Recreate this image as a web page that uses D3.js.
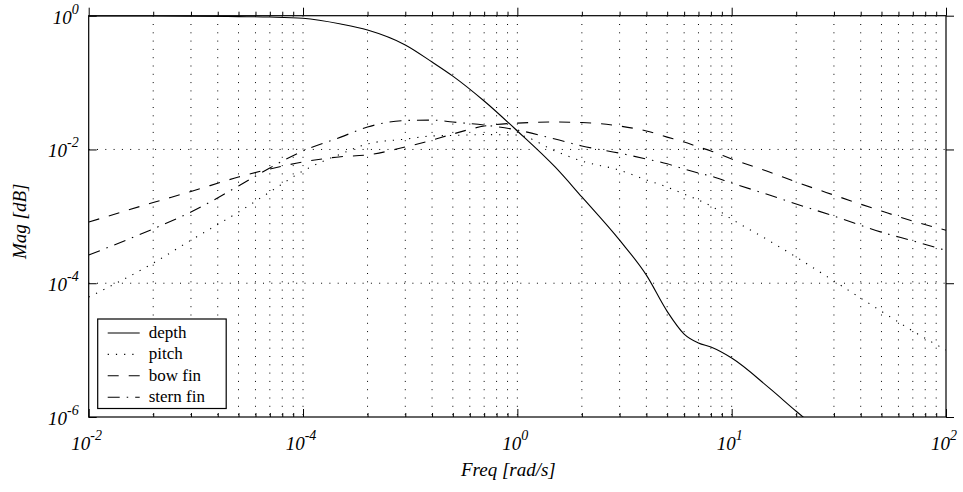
<!DOCTYPE html>
<html>
<head>
<meta charset="utf-8">
<script src="https://cdn.jsdelivr.net/npm/d3@7"></script>
<style>
  body { margin: 0; background: #fff; }
  svg { display: block; font-family: "Liberation Serif", "Times New Roman", serif; }
  .tick-label, .axis-label { font-style: italic; fill: #000; }
  .legend-text { font-size: 17px; fill: #000; }
  .line { fill: none; stroke: #000; stroke-width: 1.1; }
</style>
</head>
<body>
<div id="wrapper"></div>
<script>
// 1. Data
const freq    = [0.01, 0.02, 0.03, 0.05, 0.07, 0.1, 0.15, 0.2, 0.3, 0.4, 0.5, 0.7,
                 1, 1.5, 2, 3, 4, 5, 6, 7, 8, 10, 15, 20, 30, 50, 70, 100]
const depth   = [0.99, 0.99, 0.985, 0.97, 0.955, 0.914, 0.75, 0.61, 0.365, 0.203, 0.125, 0.053,
                 0.0189, 0.00547, 0.00195, 4.4e-4, 1.32e-4, 3.8e-5, 1.74e-5, 1.28e-5, 1.11e-5, 7.6e-6,
                 2.7e-6, 1.22e-6, 4.2e-7, 1.1e-7, 5e-8, 1.5e-8]
const pitch   = [6.2e-5, 2.0e-4, 4.4e-4, 1.16e-3, 2.31e-3, 4.77e-3, 8.55e-3, 0.0121, 0.0143, 0.0159, 0.0162, 0.0167,
                 0.0164, 9.5e-3, 6.7e-3, 4.9e-3, 3.5e-3, 2.74e-3, 2.15e-3, 1.75e-3, 1.43e-3, 9.1e-4,
                 4.3e-4, 2.46e-4, 1.08e-4, 3.8e-5, 1.93e-5, 1.0e-5]
const bowFin  = [8.2e-4, 1.61e-3, 2.35e-3, 3.87e-3, 5.1e-3, 6.5e-3, 7.8e-3, 8.3e-3, 0.0109, 0.0138, 0.0170, 0.0224,
                 0.0248, 0.0257, 0.0253, 0.0224, 0.0189, 0.0153, 0.0129, 0.0109, 9.5e-3, 7.2e-3,
                 4.6e-3, 3.26e-3, 2.08e-3, 1.2e-3, 8.5e-4, 6.2e-4]
const sternFin = [2.64e-4, 6.5e-4, 1.16e-3, 2.84e-3, 5.3e-3, 9.5e-3, 0.0153, 0.0217, 0.0271, 0.0275, 0.0257, 0.0232,
                 0.0195, 0.0143, 0.0113, 8.8e-3, 7.2e-3, 6.1e-3, 5.1e-3, 4.44e-3, 4.0e-3, 3.15e-3,
                 2.08e-3, 1.53e-3, 1.01e-3, 5.8e-4, 4.3e-4, 3.1e-4]

const seriesNames = ["depth", "pitch", "bow fin", "stern fin"]
const seriesValues = [depth, pitch, bowFin, sternFin]
const seriesDash = ["none", "1.2,7", "11,10", "12,7,1.5,7"]

const xTicks = [1e-2, 1e-1, 1e0, 1e1, 1e2]
const xTickExp = ["-2", "-4", "0", "1", "2"]
const yTicks = [1e-6, 1e-4, 1e-2, 1e0]
const yTickExp = ["-6", "-4", "-2", "0"]

// 2. Dimensions
let dimensions = {
  width: 963,
  height: 492,
  margin: { top: 15.7, right: 17, bottom: 75, left: 88.7 },
}
dimensions.boundedWidth = dimensions.width - dimensions.margin.left - dimensions.margin.right
dimensions.boundedHeight = dimensions.height - dimensions.margin.top - dimensions.margin.bottom

// 3. Canvas
const wrapper = d3.select("#wrapper")
  .append("svg")
    .attr("width", dimensions.width)
    .attr("height", dimensions.height)

const bounds = wrapper.append("g")
    .attr("transform", `translate(${dimensions.margin.left}, ${dimensions.margin.top})`)

bounds.append("defs").append("clipPath")
    .attr("id", "bounds-clip-path")
  .append("rect")
    .attr("width", dimensions.boundedWidth)
    .attr("height", dimensions.boundedHeight)

// 4. Scales
const xScale = d3.scaleLog()
  .domain([1e-2, 1e2])
  .range([0, dimensions.boundedWidth])

const yScale = d3.scaleLog()
  .domain([1e-6, 1])
  .range([dimensions.boundedHeight, 0])

// minor ticks 2..9 per decade
const minorX = []
xTicks.slice(0, -1).forEach(d => {
  for (let k = 2; k <= 9; k++) minorX.push(d * k)
})

// 5. Grid
const grid = bounds.append("g")
    .attr("stroke", "#000")
    .attr("stroke-width", 1)
    .attr("stroke-dasharray", "1,7.3")

grid.selectAll(".vgrid")
  .data(minorX.concat(xTicks.slice(1, -1)))
  .join("line")
    .attr("x1", d => xScale(d))
    .attr("x2", d => xScale(d))
    .attr("y1", 0)
    .attr("y2", dimensions.boundedHeight)

grid.selectAll(".hgrid")
  .data(yTicks.slice(1, -1))
  .join("line")
    .attr("y1", d => yScale(d))
    .attr("y2", d => yScale(d))
    .attr("x1", 0)
    .attr("x2", dimensions.boundedWidth)

// 6. Lines
const clip = bounds.append("g")
    .attr("clip-path", "url(#bounds-clip-path)")

const lineGenerator = d3.line()
  .x((d, i) => xScale(freq[i]))
  .y(d => yScale(d))
  .curve(d3.curveMonotoneX)

seriesValues.forEach((values, i) => {
  clip.append("path")
      .attr("class", "line")
      .attr("d", lineGenerator(values))
      .attr("stroke-dasharray", seriesDash[i])
})

// 7. Axes (inward ticks on all four sides)
const addTicks = (axisFn, scale, values, size, transform) => {
  bounds.append("g")
      .attr("transform", transform)
    .call(axisFn(scale).tickValues(values).tickSize(-size).tickSizeOuter(0).tickFormat(""))
    .call(g => g.select(".domain").remove())
    .call(g => g.selectAll("line").attr("stroke", "#000"))
}
const bottomT = `translate(0, ${dimensions.boundedHeight})`
const rightT = `translate(${dimensions.boundedWidth}, 0)`
addTicks(d3.axisBottom, xScale, xTicks, 8, bottomT)
addTicks(d3.axisBottom, xScale, minorX, 4, bottomT)
addTicks(d3.axisTop, xScale, xTicks, -8, "")
addTicks(d3.axisTop, xScale, minorX, -4, "")
addTicks(d3.axisLeft, yScale, yTicks, 8, "")
addTicks(d3.axisRight, yScale, yTicks, -8, rightT)

bounds.append("rect")
    .attr("width", dimensions.boundedWidth)
    .attr("height", dimensions.boundedHeight)
    .attr("fill", "none")
    .attr("stroke", "#000")
    .attr("stroke-width", 1.2)

// tick labels with superscripts
const xLabels = bounds.selectAll(".x-tick-label")
  .data(xTicks)
  .join("text")
    .attr("class", "tick-label")
    .attr("x", d => xScale(d) - 2)
    .attr("y", dimensions.boundedHeight + 33)
    .attr("text-anchor", "middle")
    .style("font-size", "19px")
    .text("10")
xLabels.append("tspan")
    .attr("dy", -10)
    .style("font-size", "14px")
    .text((d, i) => xTickExp[i])

const yLabels = bounds.selectAll(".y-tick-label")
  .data(yTicks)
  .join("text")
    .attr("class", "tick-label")
    .attr("x", -10)
    .attr("y", d => yScale(d) + 8)
    .attr("text-anchor", "end")
    .style("font-size", "19px")
    .text("10")
yLabels.append("tspan")
    .attr("dy", -10)
    .style("font-size", "14px")
    .text((d, i) => yTickExp[i])

bounds.append("text")
    .attr("class", "axis-label")
    .attr("x", dimensions.boundedWidth / 2 - 9)
    .attr("y", dimensions.boundedHeight + 59)
    .attr("text-anchor", "middle")
    .style("font-size", "19px")
    .text("Freq [rad/s]")

bounds.append("text")
    .attr("class", "axis-label")
    .attr("transform", `translate(${-dimensions.margin.left + 26}, ${dimensions.boundedHeight / 2 + 5}) rotate(-90)`)
    .attr("text-anchor", "middle")
    .style("font-size", "19px")
    .text("Mag [dB]")

// 8. Legend
const legend = bounds.append("g")
    .attr("transform", `translate(9, ${dimensions.boundedHeight - 98})`)

legend.append("rect")
    .attr("width", 128.5)
    .attr("height", 89.5)
    .attr("fill", "#fff")
    .attr("stroke", "#000")
    .attr("stroke-width", 1.2)

const legendItems = legend.selectAll(".legend-item")
  .data(seriesNames)
  .join("g")
    .attr("transform", (d, i) => `translate(0, ${14 + i * 21.4})`)

legendItems.append("line")
    .attr("class", "line")
    .attr("x1", 10)
    .attr("x2", 42)
    .attr("stroke-dasharray", (d, i) => seriesDash[i])

legendItems.append("text")
    .attr("class", "legend-text")
    .attr("x", 51)
    .attr("y", 5)
    .text(d => d)
</script>
</body>
</html>
